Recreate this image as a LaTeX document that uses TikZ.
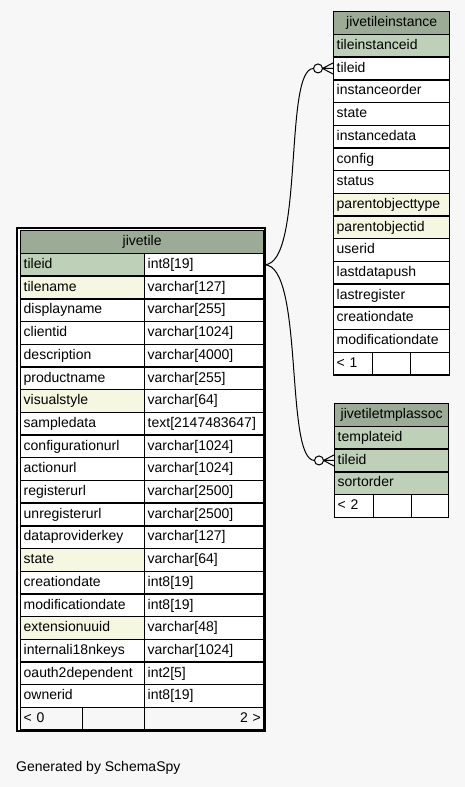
\documentclass[tikz,border=0pt]{standalone}
\usepackage{fontspec}
\setmainfont{Liberation Sans}
\usetikzlibrary{positioning}

\definecolor{schemabg}{HTML}{F7F7F7}
\definecolor{tblhead}{HTML}{9CAB96}
\definecolor{pkey}{HTML}{BED1B8}
\definecolor{indexed}{HTML}{F5F7E1}

\tikzset{
  cell/.style={draw,fill=white,line width=1.4pt,anchor=north west,
    inner xsep=3pt,inner ysep=0pt,minimum height=22.7pt,
    text height=10.5pt,text depth=3pt,align=left,text width=#1},
  headcell/.style={cell=#1,fill=tblhead,align=center},
  relline/.style={line width=1pt}
}

\begin{document}
\begin{tikzpicture}[x=1pt,y=-1pt,font=\fontsize{14}{16}\selectfont]
  \fill[schemabg] (0,0) rectangle (465,787);
  \useasboundingbox (0,0) rectangle (465,787);

  % jivetile
  \draw[line width=2pt,fill=white] (17,228) rectangle (265,731);
  \node[headcell=237pt] (jt) at (20,230) {jivetile};
  \foreach \fname/\ftype/\fcol [count=\i] in {
      tileid/int8[19]/pkey, tilename/varchar[127]/indexed,
      displayname/varchar[255]/white, clientid/varchar[1024]/white,
      description/varchar[4000]/white, productname/varchar[255]/white,
      visualstyle/varchar[64]/indexed, sampledata/text[2147483647]/white,
      configurationurl/varchar[1024]/white, actionurl/varchar[1024]/white,
      registerurl/varchar[2500]/white, unregisterurl/varchar[2500]/white,
      dataproviderkey/varchar[127]/white, state/varchar[64]/indexed,
      creationdate/int8[19]/white, modificationdate/int8[19]/white,
      extensionuuid/varchar[48]/indexed, internali18nkeys/varchar[1024]/white,
      oauth2dependent/int2[5]/white, ownerid/int8[19]/white}{
    \node[cell=118pt,fill=\fcol] (jt-\fname) at (20,{230+\i*22.7}) {\fname};
    \node[cell=113pt] (jt-\fname-type) at (144,{230+\i*22.7}) {\ftype};
  }
  \node[cell=56pt,fill=schemabg] (jt-foot) at (20,{230+21*22.7}) {< 0};
  \node[cell=56pt,fill=schemabg] (jt-foot-mid) at (82,{230+21*22.7}) {};
  \node[cell=113pt,fill=schemabg,align=right] (jt-foot-right) at (144,{230+21*22.7}) {2 >};

  % jivetileinstance
  \node[headcell=110pt] (jti) at (333,11) {jivetileinstance};
  \foreach \fname/\fcol [count=\i] in {
      tileinstanceid/pkey, tileid/white, instanceorder/white, state/white,
      instancedata/white, config/white, status/white,
      parentobjecttype/indexed, parentobjectid/indexed, userid/white,
      lastdatapush/white, lastregister/white, creationdate/white,
      modificationdate/white}{
    \node[cell=110pt,fill=\fcol] (jti-\fname) at (333,{11+\i*22.7}) {\fname};
  }
  \node[cell=33pt] (jti-foot) at (333,{11+15*22.7}) {< 1};
  \node[cell=32pt] (jti-foot-mid) at (372,{11+15*22.7}) {};
  \node[cell=33pt] (jti-foot-right) at (410,{11+15*22.7}) {};

  % jivetiletmplassoc
  \node[headcell=108pt] (jtta) at (334,403) {jivetiletmplassoc};
  \foreach \fname [count=\i] in {templateid, tileid, sortorder}{
    \node[cell=108pt,fill=pkey] (jtta-\fname) at (334,{403+\i*22.7}) {\fname};
  }
  \node[cell=33pt] (jtta-foot) at (334,{403+4*22.7}) {< 2};
  \node[cell=32pt] (jtta-foot-mid) at (373,{403+4*22.7}) {};
  \node[cell=31pt] (jtta-foot-right) at (411,{403+4*22.7}) {};

  % relations
  \foreach \tgt in {jti,jtta}{
    \coordinate (\tgt-dot) at ([xshift=-15pt]\tgt-tileid.west);
    \draw[relline] (jt-tileid-type.east) .. controls +(40,0) and +(-30,0) .. ([xshift=-4.5pt]\tgt-dot);
    \draw[relline] (\tgt-dot) circle (4.5pt);
    \draw[relline] ([xshift=-10.5pt]\tgt-tileid.west) -- ([yshift=5.5pt]\tgt-tileid.west)
      ([xshift=-10.5pt]\tgt-tileid.west) -- (\tgt-tileid.west)
      ([xshift=-10.5pt]\tgt-tileid.west) -- ([yshift=-5.5pt]\tgt-tileid.west);
  }

  \node[anchor=base west,inner sep=0pt] (credit) at (16,771) {Generated by SchemaSpy};
\end{tikzpicture}
\end{document}
